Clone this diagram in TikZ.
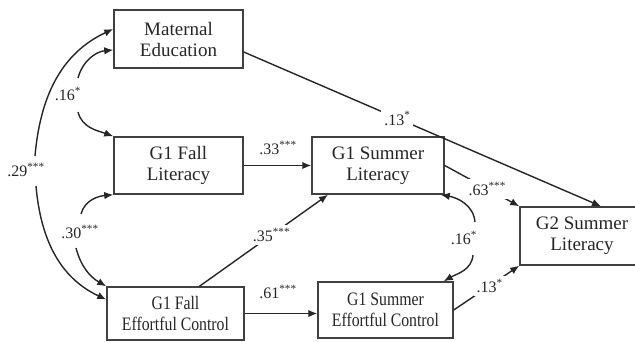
\documentclass[tikz,border=0pt]{standalone}
\usepackage{fontspec}
\setmainfont{Liberation Serif}
\usepackage{graphicx}
\usetikzlibrary{arrows.meta}
\newcommand{\narrow}[1]{\scalebox{.83}[1]{#1}}

\begin{document}
\begin{tikzpicture}[x=1pt, y=-1pt]
    \tikzstyle{every node} = [align=center, text=black!85]
    \tikzstyle{box} = [draw=black!75, line width=1.5pt, inner sep=0pt, font=\fontsize{19}{21}\selectfont]
    \tikzstyle{coef} = [font=\fontsize{16}{18}\selectfont, inner sep=1pt]
    \tikzstyle{gapcoef} = [coef, fill=white, inner sep=3pt]
    \tikzstyle{arr} = [draw=black!85, line width=1.4pt, -{Latex[length=9pt,width=7.5pt]}]
    \useasboundingbox (0,0) rectangle (635,341);

    \node[box, minimum width=129, minimum height=58] (mat) at (178.5,39) {Maternal\\Education};
    \node[box, minimum width=129, minimum height=57] (fl) at (178.5,165.5) {G1 Fall\\Literacy};
    \node[box, minimum width=132, minimum height=57] (sl) at (378,165.5) {G1 Summer\\Literacy};
    \node[box, minimum width=124, minimum height=58] (g2) at (582,236) {G2 Summer\\Literacy};
    \node[box, minimum width=137, minimum height=53] (fec) at (175.5,313.5) {\narrow{G1 Fall}\\\narrow{Effortful Control}};
    \node[box, minimum width=135, minimum height=56] (sec) at (385.5,310) {\narrow{G1 Summer}\\\narrow{Effortful Control}};

    % correlations
    \node[coef] (c29) at (26,170) {.29\textsuperscript{***}};
    \node[coef] (c16) at (68,94) {.16\textsuperscript{*}};
    \node[coef] (c30) at (80,232) {.30\textsuperscript{***}};
    \node[coef] (c16r) at (464,238) {.16\textsuperscript{*}};
    \coordinate (a29) at (35,156);
    \coordinate (b29) at (36,186);
    \coordinate (a16) at (78,78);
    \coordinate (b16) at (78,112);
    \coordinate (a30) at (81,214);
    \coordinate (b30) at (76,248);
    \coordinate (a16r) at (475,222);
    \coordinate (b16r) at (473,255);
    \draw[arr] (a29) to[out=85, in=205] ([yshift=10]mat.west);
    \draw[arr] (b29) to[out=-85, in=155] ([yshift=14]fec.west);
    \draw[arr] (a16) to[out=75, in=185] ([yshift=-11]mat.west);
    \draw[arr] (b16) to[out=-75, in=160] (fl.north west);
    \draw[arr] (a30) to[out=75, in=185] (fl.south west);
    \draw[arr] (b30) to[out=-75, in=150] (fec.north west);
    \draw[arr] (a16r) to[out=95, in=-10] ([xshift=-4]sl.south east);
    \draw[arr] (b16r) to[out=-95, in=30] ([xshift=-10]sec.north east);

    % paths
    \draw[arr] (fl.east) -- (sl.west);
    \node[coef] (c33) at (278,148) {.33\textsuperscript{***}};
    \draw[arr] (fec.east) -- (fec.east -| sec.west);
    \node[coef] (c61) at (278,292) {.61\textsuperscript{***}};
    \draw[arr] ([yshift=-13]mat.east) -- node[gapcoef, pos=.43] (c13) {.13\textsuperscript{*}} ([xshift=19]g2.north);
    \draw[arr] (sl.east) -- node[gapcoef, pos=.57] (c63) {.63\textsuperscript{***}} (g2.north west);
    \draw[arr] ([xshift=24]fec.north) -- node[gapcoef, pos=.56] (c35) {.35\textsuperscript{***}} ([xshift=-50]sl.south);
    \draw[arr] (sec.east) -- node[gapcoef, pos=.55] (c13b) {.13\textsuperscript{*}} (g2.south west);
\end{tikzpicture}
\end{document}
